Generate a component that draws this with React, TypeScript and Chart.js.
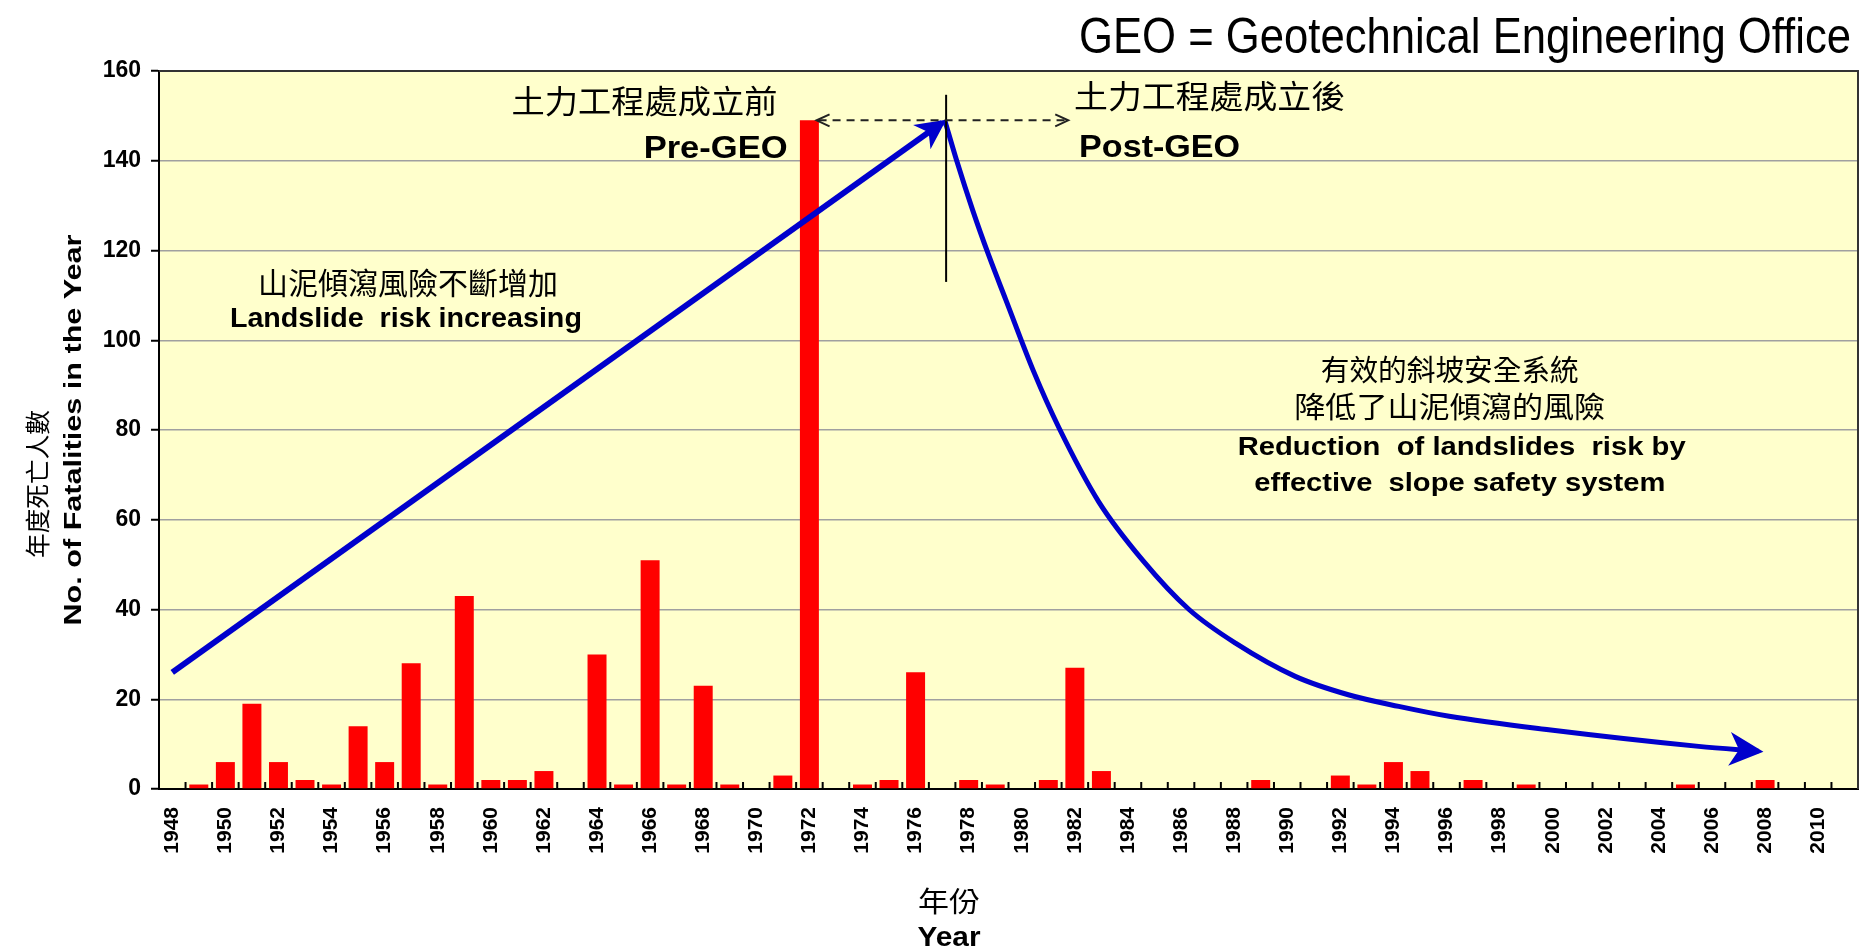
import React, { useEffect, useRef } from 'react';
import { Chart, registerables } from 'chart.js';

Chart.register(...registerables);

const W = 1863;
const H = 951;

const years = [
  '1948', '1949', '1950', '1951', '1952', '1953', '1954', '1955', '1956', '1957',
  '1958', '1959', '1960', '1961', '1962', '1963', '1964', '1965', '1966', '1967',
  '1968', '1969', '1970', '1971', '1972', '1973', '1974', '1975', '1976', '1977',
  '1978', '1979', '1980', '1981', '1982', '1983', '1984', '1985', '1986', '1987',
  '1988', '1989', '1990', '1991', '1992', '1993', '1994', '1995', '1996', '1997',
  '1998', '1999', '2000', '2001', '2002', '2003', '2004', '2005', '2006', '2007',
  '2008', '2009', '2010', '2011',
];

const fatalities = [
  0, 1, 6, 19, 6, 2, 1, 14, 6, 28,
  1, 43, 2, 2, 4, 0, 30, 1, 51, 1,
  23, 1, 0, 3, 149, 0, 1, 2, 26, 0,
  2, 1, 0, 2, 27, 4, 0, 0, 0, 0,
  0, 2, 0, 0, 3, 1, 6, 4, 0, 2,
  0, 1, 0, 0, 0, 0, 0, 1, 0, 0,
  2, 0, 0, 0,
];

const tickLabels = [
  '1948', '', '1950', '', '1952', '', '1954', '', '1956', '',
  '1958', '', '1960', '', '1962', '', '1964', '', '1966', '',
  '1968', '', '1970', '', '1972', '', '1974', '', '1976', '',
  '1978', '', '1980', '', '1982', '', '1984', '', '1986', '',
  '1988', '', '1990', '', '1992', '', '1994', '', '1996', '',
  '1998', '', '2000', '', '2002', '', '2004', '', '2006', '',
  '2008', '', '2010', '',
];

// Pre-GEO rising trend arrow
const riseYears = [1948, 1977];
const riseValues = [26, 148.5];

// Post-GEO declining trend curve
const declineYears = [
  1977.1, 1977.55, 1978.15, 1978.75, 1979.4, 1980.45, 1981.4, 1982.9, 1984.55,
  1986.3, 1988.05, 1990.3, 1992.3, 1994.2, 1996.1, 1999.85, 2005.5, 2007.75,
];
const declineValues = [
  149, 140, 129, 119, 109, 93, 80.5, 64, 51,
  40, 32.5, 25.1, 21, 18.4, 16.2, 13.2, 9.5, 8.4,
];

// GEO establishment markers
const geoDividerYear = 1977.15;
const geoDividerRange = [113, 154.7];
const geoSpanYears = [1972.27, 1981.75];
const geoSpanValue = 149;

const LAT = '"Liberation Sans", Arial, sans-serif';
const NARROW = '"Liberation Sans Narrow", "Liberation Sans", Arial, sans-serif';
const CJK = '"Noto Sans CJK TC", "Noto Sans CJK SC", sans-serif';

const cjk = (s: number) => `400 ${s}px ${CJK}`;
const bold = (s: number) => `bold ${s}px ${LAT}`;

type Note = {
  text: string; year: number; value: number;
  align: CanvasTextAlign; baseline: CanvasTextBaseline; font: string; width: number;
};

const notes: Note[] = [
  { text: '土力工程處成立前', year: 1970.8, value: 153.4, align: 'right', baseline: 'middle', font: cjk(32), width: 266 },
  { text: 'Pre-GEO', year: 1971.18, value: 140.7, align: 'right', baseline: 'alphabetic', font: bold(32), width: 144 },
  { text: '土力工程處成立後', year: 1981.97, value: 154.5, align: 'left', baseline: 'middle', font: cjk(32), width: 271 },
  { text: 'Post-GEO', year: 1982.16, value: 140.9, align: 'left', baseline: 'alphabetic', font: bold(32), width: 161 },
  { text: '山泥傾瀉風險不斷增加', year: 1956.88, value: 112.8, align: 'center', baseline: 'middle', font: cjk(30), width: 300 },
  { text: 'Landslide  risk increasing', year: 1956.8, value: 102.9, align: 'center', baseline: 'alphabetic', font: bold(27), width: 352 },
  { text: '有效的斜坡安全系統', year: 1996.12, value: 93.4, align: 'center', baseline: 'middle', font: cjk(29), width: 258 },
  { text: '降低了山泥傾瀉的風險', year: 1996.12, value: 85.1, align: 'center', baseline: 'middle', font: cjk(29), width: 311 },
  { text: 'Reduction  of landslides  risk by', year: 1996.57, value: 74.5, align: 'center', baseline: 'alphabetic', font: bold(26), width: 448 },
  { text: 'effective  slope safety system', year: 1996.5, value: 66.5, align: 'center', baseline: 'alphabetic', font: bold(26), width: 411 },
];

function drawText(
  ctx: CanvasRenderingContext2D, s: string, x: number, y: number, font: string,
  align: CanvasTextAlign, baseline: CanvasTextBaseline, width?: number, rot?: number,
) {
  ctx.save();
  ctx.font = font;
  ctx.fillStyle = '#000';
  ctx.textAlign = align;
  ctx.textBaseline = baseline;
  const w = ctx.measureText(s).width;
  const sx = width && w > 0 ? width / w : 1;
  ctx.translate(x, y);
  if (rot) ctx.rotate(rot);
  ctx.scale(sx, 1);
  ctx.fillText(s, 0, 0);
  ctx.restore();
}

function stealthArrow(
  ctx: CanvasRenderingContext2D, tx: number, ty: number, dx: number, dy: number,
  len: number, hw: number, color: string,
) {
  const d = Math.hypot(dx, dy) || 1;
  const ux = dx / d, uy = dy / d;
  const px = -uy, py = ux;
  const bx = tx - ux * len, by = ty - uy * len;
  const nx = tx - ux * len * 0.72, ny = ty - uy * len * 0.72;
  ctx.save();
  ctx.fillStyle = color;
  ctx.beginPath();
  ctx.moveTo(tx, ty);
  ctx.lineTo(bx + px * hw, by + py * hw);
  ctx.lineTo(nx, ny);
  ctx.lineTo(bx - px * hw, by - py * hw);
  ctx.closePath();
  ctx.fill();
  ctx.restore();
}

function endArrow(chart: any, dsIndex: number, len: number, hw: number, ext: number, color: string) {
  const meta = chart.getDatasetMeta(dsIndex);
  const pts = meta.data;
  if (!pts || pts.length < 2) return;
  const last = pts[pts.length - 1];
  let fx = pts[pts.length - 2].x, fy = pts[pts.length - 2].y;
  if (typeof last.cp1x === 'number' && Math.hypot(last.x - last.cp1x, last.y - last.cp1y) > 0.5) {
    fx = last.cp1x; fy = last.cp1y;
  }
  const dx = last.x - fx, dy = last.y - fy;
  const d = Math.hypot(dx, dy) || 1;
  stealthArrow(chart.ctx, last.x + (dx / d) * ext, last.y + (dy / d) * ext, dx, dy, len, hw, color);
}

const bgPlugin = {
  id: 'bgPlugin',
  beforeDraw(chart: any) {
    const { ctx, chartArea: a } = chart;
    ctx.save();
    ctx.fillStyle = '#ffffff';
    ctx.fillRect(0, 0, chart.width, chart.height);
    ctx.fillStyle = '#FFFFCC';
    ctx.fillRect(a.left, a.top, a.right - a.left, a.bottom - a.top);
    ctx.restore();
  },
};

const overlayPlugin = {
  id: 'overlayPlugin',
  afterDatasetsDraw(chart: any) {
    const { ctx, chartArea: a, scales } = chart;
    const xs = scales.x, xl = scales.xl, ys = scales.y;

    // arrowheads of trend lines
    endArrow(chart, 0, 30, 15, 5, '#0000CC');
    endArrow(chart, 1, 34, 17, 5, '#0000CC');

    // divider line
    ctx.save();
    ctx.strokeStyle = '#000';
    ctx.lineWidth = 2;
    const vx = xl.getPixelForValue(geoDividerYear);
    ctx.beginPath();
    ctx.moveTo(vx, ys.getPixelForValue(geoDividerRange[1]));
    ctx.lineTo(vx, ys.getPixelForValue(geoDividerRange[0]));
    ctx.stroke();

    // dashed double arrow
    const x1 = xl.getPixelForValue(geoSpanYears[0]);
    const x2 = xl.getPixelForValue(geoSpanYears[1]);
    const yy = ys.getPixelForValue(geoSpanValue);
    ctx.strokeStyle = '#222';
    ctx.lineWidth = 2;
    ctx.setLineDash([8, 6]);
    ctx.beginPath();
    ctx.moveTo(x1 + 2, yy);
    ctx.lineTo(x2 - 2, yy);
    ctx.stroke();
    ctx.setLineDash([]);
    ctx.beginPath();
    ctx.moveTo(x1 + 13, yy - 6);
    ctx.lineTo(x1, yy);
    ctx.lineTo(x1 + 13, yy + 6);
    ctx.moveTo(x2 - 13, yy - 6);
    ctx.lineTo(x2, yy);
    ctx.lineTo(x2 - 13, yy + 6);
    ctx.stroke();
    ctx.restore();

    // category boundary ticks (inward)
    ctx.save();
    ctx.strokeStyle = '#000';
    ctx.lineWidth = 2;
    ctx.beginPath();
    for (let i = 1; i < years.length; i++) {
      const bx = (xs.getPixelForValue(i - 1) + xs.getPixelForValue(i)) / 2;
      ctx.moveTo(bx, a.bottom);
      ctx.lineTo(bx, a.bottom - 7);
    }
    ctx.stroke();
    // frame top and right
    ctx.strokeStyle = '#333';
    ctx.beginPath();
    ctx.moveTo(a.left, a.top);
    ctx.lineTo(a.right, a.top);
    ctx.lineTo(a.right, a.bottom);
    ctx.stroke();
    ctx.restore();

    // annotations
    for (const n of notes) {
      drawText(ctx, n.text, xl.getPixelForValue(n.year), ys.getPixelForValue(n.value), n.font, n.align, n.baseline, n.width);
    }
  },
  afterDraw(chart: any) {
    const { ctx, chartArea: a } = chart;
    // top-right note
    drawText(ctx, 'GEO = Geotechnical Engineering Office', a.right - 7, 53, `400 50px ${NARROW}`, 'right', 'alphabetic', 772);
    // y axis titles
    drawText(ctx, 'No. of Fatalities in the Year', 74, 430, bold(24), 'center', 'middle', 391, -Math.PI / 2);
    drawText(ctx, '年度死亡人數', 37, 484, cjk(25), 'center', 'middle', 148, -Math.PI / 2);
    // x axis titles
    const cx = 949;
    drawText(ctx, '年份', cx, 901, cjk(28), 'center', 'middle', 62);
    drawText(ctx, 'Year', cx, 946, bold(28), 'center', 'alphabetic', 63);
  },
};

export default function App() {
  const ref = useRef<HTMLCanvasElement | null>(null);

  useEffect(() => {
    if (!ref.current) return;
    const chart = new Chart(ref.current, {
      type: 'bar',
      data: {
        labels: years,
        datasets: [
          {
            type: 'line',
            label: 'Landslide risk increasing',
            data: riseYears.map((x, i) => ({ x, y: riseValues[i] })),
            xAxisID: 'xl',
            yAxisID: 'y',
            borderColor: '#0000CC',
            borderWidth: 6,
            pointRadius: 0,
            tension: 0,
            fill: false,
            order: 1,
          } as any,
          {
            type: 'line',
            label: 'Reduction of landslides risk',
            data: declineYears.map((x, i) => ({ x, y: declineValues[i] })),
            xAxisID: 'xl',
            yAxisID: 'y',
            borderColor: '#0000CC',
            borderWidth: 5,
            pointRadius: 0,
            cubicInterpolationMode: 'monotone',
            fill: false,
            order: 1,
          } as any,
          {
            type: 'bar',
            label: 'No. of Fatalities',
            data: fatalities,
            xAxisID: 'x',
            yAxisID: 'y',
            backgroundColor: '#FF0000',
            borderWidth: 0,
            barPercentage: 0.715,
            categoryPercentage: 1,
            grouped: false,
            order: 2,
          } as any,
        ],
      },
      options: {
        responsive: false,
        animation: false,
        devicePixelRatio: 1,
        layout: { padding: { top: 71, right: 5, left: 0, bottom: 0 } },
        plugins: {
          legend: { display: false },
          tooltip: { enabled: false },
          title: { display: false },
        },
        scales: {
          x: {
            type: 'category',
            offset: true,
            grid: { display: false, drawTicks: false },
            border: { display: true, color: '#000', width: 2 },
            ticks: {
              autoSkip: false,
              maxRotation: 90,
              minRotation: 90,
              padding: 18,
              color: '#000',
              font: { family: LAT, size: 21, weight: 'bold' },
              callback: (_v: any, i: number) => tickLabels[i],
            },
            afterFit: (s: any) => { s.height = 162; s.paddingLeft = 0; s.paddingRight = 0; },
          },
          xl: {
            type: 'linear',
            display: false,
            offset: false,
            grid: { offset: false },
            min: 1947.5,
            max: 2011.5,
          },
          y: {
            min: 0,
            max: 160,
            ticks: {
              stepSize: 20,
              padding: 10,
              color: '#000',
              font: { family: LAT, size: 23, weight: 'bold' },
            },
            grid: { color: '#a0a0a0', lineWidth: 1.5, tickColor: '#000', tickLength: 8, tickWidth: 2 },
            border: { display: true, color: '#000', width: 2 },
            afterFit: (s: any) => { s.width = 159; s.paddingTop = 0; s.paddingBottom = 0; },
          },
        },
      } as any,
      plugins: [bgPlugin, overlayPlugin],
    });
    return () => chart.destroy();
  }, []);

  return (
    <div style={{ position: 'absolute', left: 0, top: 0, width: W, height: H, background: '#fff' }}>
      <canvas ref={ref} width={W} height={H} style={{ width: W, height: H, display: 'block' }} />
    </div>
  );
}
